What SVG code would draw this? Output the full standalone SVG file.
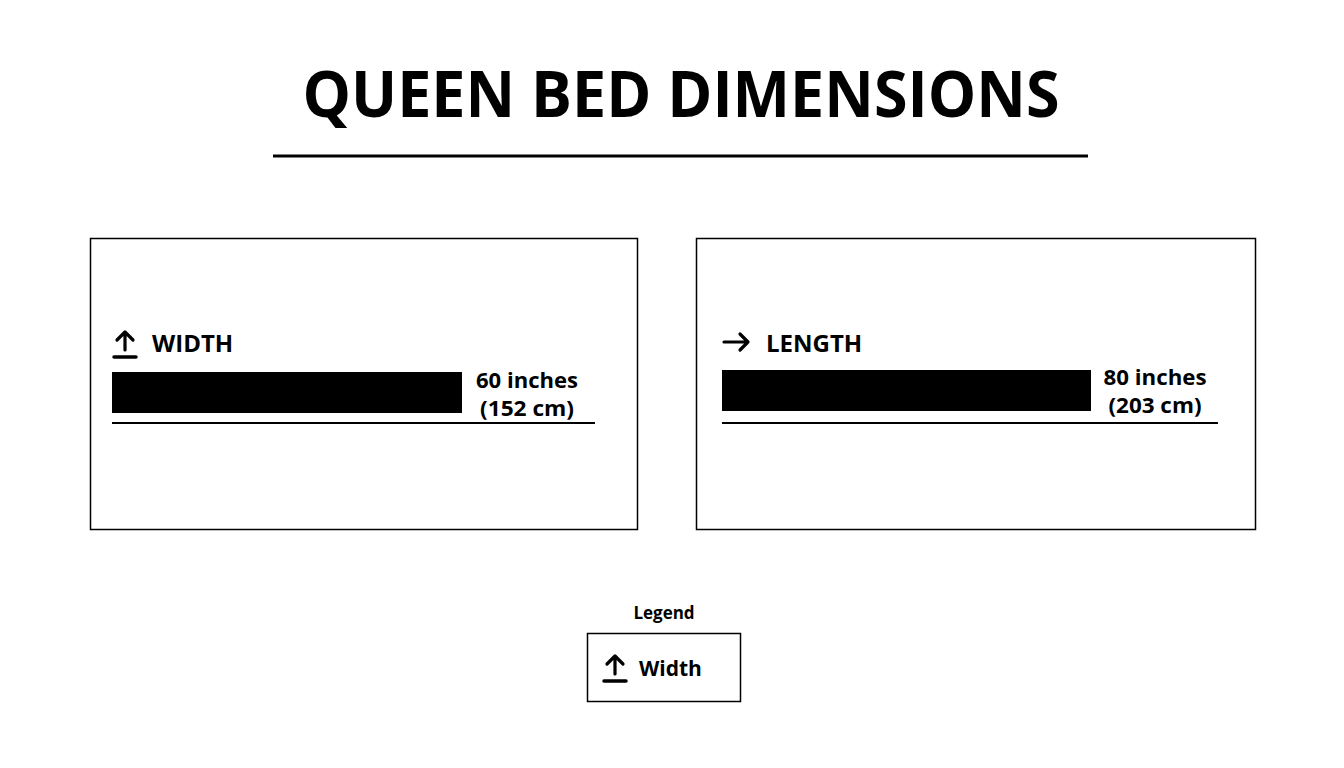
<svg xmlns="http://www.w3.org/2000/svg" width="1344" height="768" viewBox="0 0 1344 768">
<style>
text{font-family:"Open Sans","Noto Sans","Liberation Sans",sans-serif;font-weight:bold;fill:#000}
.box{fill:none;stroke:#000;stroke-width:1.5}
.icon{fill:none;stroke:#000;stroke-width:3.2;stroke-linecap:round;stroke-linejoin:round}
.label{font-size:24px}
.dim{font-size:21px;text-anchor:middle}
</style>
<rect width="1344" height="768" fill="#fff"/>
<g id="title">
<text x="681" y="117" font-size="64" text-anchor="middle" textLength="757" lengthAdjust="spacingAndGlyphs">QUEEN BED DIMENSIONS</text>
<line x1="273" y1="156" x2="1088" y2="156" stroke="#000" stroke-width="3"/>
</g>
<g id="width-panel">
<rect class="box" x="90.5" y="238.5" width="547" height="291"/>
<path class="icon" d="M125 350V332M117 340L125 332L133 340"/>
<line x1="114" y1="357" x2="136" y2="357" stroke="#000" stroke-width="3.5" stroke-linecap="round"/>
<text class="label" x="152" y="352">WIDTH</text>
<rect x="112" y="372" width="350" height="41" fill="#000"/>
<text class="dim" x="527" y="388" textLength="102" lengthAdjust="spacingAndGlyphs">60 inches</text>
<text class="dim" x="527" y="416" textLength="94" lengthAdjust="spacingAndGlyphs">(152 cm)</text>
<line x1="112" y1="423" x2="595" y2="423" stroke="#000" stroke-width="2"/>
</g>
<g id="length-panel">
<rect class="box" x="696.5" y="238.5" width="559" height="291"/>
<path class="icon" d="M724 342H748M740 334L748 342L740 350"/>
<text class="label" x="766" y="352">LENGTH</text>
<rect x="722" y="370" width="369" height="41" fill="#000"/>
<text class="dim" x="1155" y="385" textLength="103" lengthAdjust="spacingAndGlyphs">80 inches</text>
<text class="dim" x="1155" y="413" textLength="93" lengthAdjust="spacingAndGlyphs">(203 cm)</text>
<line x1="722" y1="423" x2="1218" y2="423" stroke="#000" stroke-width="2"/>
</g>
<g id="legend">
<text x="664" y="619" font-size="17" text-anchor="middle">Legend</text>
<rect class="box" x="587.5" y="633.5" width="153" height="68"/>
<path class="icon" d="M615 674V656M607 664L615 656L623 664"/>
<line x1="604" y1="681" x2="626" y2="681" stroke="#000" stroke-width="3.5" stroke-linecap="round"/>
<text x="639" y="676" font-size="21">Width</text>
</g>
</svg>
